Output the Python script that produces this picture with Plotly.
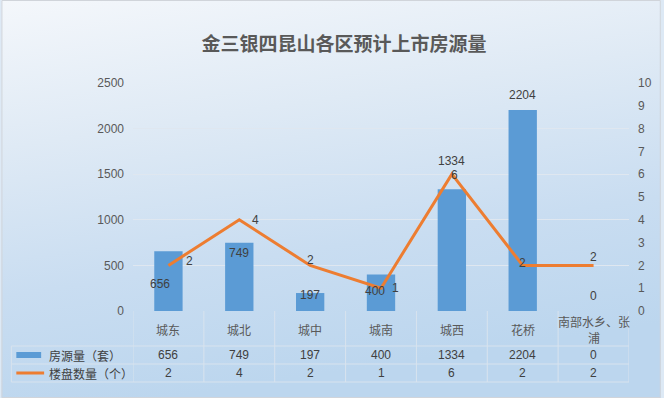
import base64
import plotly.graph_objects as go

# ---------------- data ----------------
categories = ["城东", "城北", "城中", "城南", "城西", "花桥", "南部水乡、张浦"]
header_labels = ["城东", "城北", "城中", "城南", "城西", "花桥", "南部水乡、张<br>浦"]
supply = [656, 749, 197, 400, 1334, 2204, 0]          # 房源量（套）
projects = [2, 4, 2, 1, 6, 2, 2]                      # 楼盘数量（个）
series_names = ["房源量（套）", "楼盘数量（个）"]
title_text = "金三银四昆山各区预计上市房源量"
left_ticks = [0, 500, 1000, 1500, 2000, 2500]
right_ticks = list(range(0, 11))

# ---------------- style ----------------
W, H = 664, 398
L, R, T, B = 132.5, 32, 83, 87
PW, PH = W - L - R, H - T - B
BAR = "#5b9bd5"
LINE = "#ed7d31"
TXT = "#404040"
AX = "#595959"
GRID = "#dfe7f0"
TBL = "#d8e3ee"
NUMF = "Liberation Sans Narrow, Liberation Sans, Noto Sans CJK SC"
CJKF = "Noto Sans CJK SC"

# label offsets (pixels) for data labels
bar_yshift = [-33, -10, -2, -16, 28, 15, 15]
bar_xshift = [-8, 0, 0, -6, 0, 0, 0]
line_xshift = [21, 16, 0, 14, 3, 0, 0]
line_yshift = [4, 0, 5, 0, -1, 2, 8]


def px2paper_x(px):
    return (px - L) / PW


def px2paper_y(py):
    return (H - B - py) / PH


fig = go.Figure()

fig.add_trace(go.Bar(
    x=categories, y=supply, name=series_names[0],
    marker=dict(color=BAR, line=dict(width=0)), width=0.4, yaxis="y",
    showlegend=False, hoverinfo="x+y",
))
fig.add_trace(go.Scatter(
    x=categories, y=projects, name=series_names[1], mode="lines",
    line=dict(color=LINE, width=3), yaxis="y2", showlegend=False,
))

annotations = []
# bar labels
for i, (c, v) in enumerate(zip(categories, supply)):
    annotations.append(dict(x=c, y=v, xref="x", yref="y", text=str(v), showarrow=False,
                            xshift=bar_xshift[i], yshift=bar_yshift[i],
                            font=dict(family=NUMF, size=12, color=TXT)))
# line labels
for i, (c, v) in enumerate(zip(categories, projects)):
    annotations.append(dict(x=c, y=v, xref="x", yref="y2", text=str(v), showarrow=False,
                            xshift=line_xshift[i], yshift=line_yshift[i],
                            font=dict(family=NUMF, size=12, color=TXT)))

# table header (category labels)
for c, lab in zip(categories, header_labels):
    annotations.append(dict(x=c, y=px2paper_y(329), xref="x", yref="paper", text=lab,
                            showarrow=False, yanchor="middle",
                            font=dict(family=CJKF, size=12, color=AX)))
# table values
row_y = [px2paper_y(355), px2paper_y(373)]
for row, vals in enumerate([supply, projects]):
    for c, v in zip(categories, vals):
        annotations.append(dict(x=c, y=row_y[row], xref="x", yref="paper", text=str(v),
                                showarrow=False, yanchor="middle",
                                font=dict(family=NUMF, size=12, color=TXT)))
    annotations.append(dict(x=px2paper_x(46), y=row_y[row], xref="paper", yref="paper",
                            text=series_names[row], showarrow=False, xanchor="left",
                            yanchor="middle", font=dict(family=CJKF, size=12, color=TXT)))

shapes = []
# table lines
y_top, y_h1, y_h2, y_bot = px2paper_y(311), px2paper_y(346), px2paper_y(364), px2paper_y(382)
n = len(categories)
for k in range(n + 1):
    shapes.append(dict(type="line", xref="x", yref="paper", x0=k - 0.5, x1=k - 0.5,
                       y0=y_top, y1=y_bot, line=dict(color=TBL, width=1)))
shapes.append(dict(type="line", xref="paper", yref="paper", x0=px2paper_x(10), x1=px2paper_x(10),
                   y0=y_h1, y1=y_bot, line=dict(color=TBL, width=1)))
for yy in (y_h1, y_h2, y_bot):
    shapes.append(dict(type="line", xref="paper", yref="paper", x0=px2paper_x(10), x1=1,
                       y0=yy, y1=yy, line=dict(color=TBL, width=1)))
# legend keys
shapes.append(dict(type="rect", xref="paper", yref="paper", x0=px2paper_x(15), x1=px2paper_x(40),
                   y0=px2paper_y(358), y1=px2paper_y(352), fillcolor=BAR, line=dict(width=0)))
shapes.append(dict(type="line", xref="paper", yref="paper", x0=px2paper_x(15), x1=px2paper_x(43),
                   y0=px2paper_y(373), y1=px2paper_y(373), line=dict(color=LINE, width=3)))
# outer border
shapes.append(dict(type="rect", xref="paper", yref="paper", x0=px2paper_x(0.5), x1=px2paper_x(W - 0.5),
                   y0=px2paper_y(H - 0.5), y1=px2paper_y(0.5), line=dict(color="#d0d4da", width=1)))

# gradient background via svg image
svg = f"""<svg xmlns='http://www.w3.org/2000/svg' width='{W}' height='{H}'>
<defs><linearGradient id='g' x1='0' y1='0' x2='0.25' y2='1'>
<stop offset='0' stop-color='#f4f7fb'/><stop offset='0.35' stop-color='#dfeaf5'/>
<stop offset='0.7' stop-color='#c9ddf1'/><stop offset='1' stop-color='#bcd6ee'/></linearGradient></defs>
<rect width='{W}' height='{H}' fill='url(#g)'/></svg>"""
src = "data:image/svg+xml;base64," + base64.b64encode(svg.encode()).decode()

fig.update_layout(
    width=W, height=H,
    margin=dict(l=L, r=R, t=T, b=B, pad=0),
    paper_bgcolor="#dde9f5", plot_bgcolor="rgba(0,0,0,0)",
    images=[dict(source=src, xref="paper", yref="paper", x=px2paper_x(0), y=px2paper_y(0),
                 sizex=W / PW, sizey=H / PH, xanchor="left", yanchor="top",
                 sizing="stretch", layer="below")],
    title=dict(text=title_text, xref="container", x=344 / W, xanchor="center",
               yref="container", y=1 - 44 / H, yanchor="middle",
               font=dict(family=CJKF, size=19, color=AX, weight="bold")),
    xaxis=dict(showticklabels=False, showgrid=False, zeroline=False, showline=False,
               ticks="", range=[-0.5, n - 0.5]),
    yaxis=dict(range=[0, 2500], tickvals=left_ticks, showgrid=True, gridcolor=GRID, gridwidth=1,
               zeroline=False, showline=False, ticks="", ticklabelstandoff=8,
               tickfont=dict(family=NUMF, size=12, color=AX)),
    yaxis2=dict(range=[0, 10], tickvals=right_ticks, overlaying="y", side="right",
                showgrid=False, zeroline=False, showline=False, ticks="", ticklabelstandoff=8,
                tickfont=dict(family=NUMF, size=12, color=AX)),
    annotations=annotations, shapes=shapes,
    bargap=0.6,
)

fig.write_html("out.html")
